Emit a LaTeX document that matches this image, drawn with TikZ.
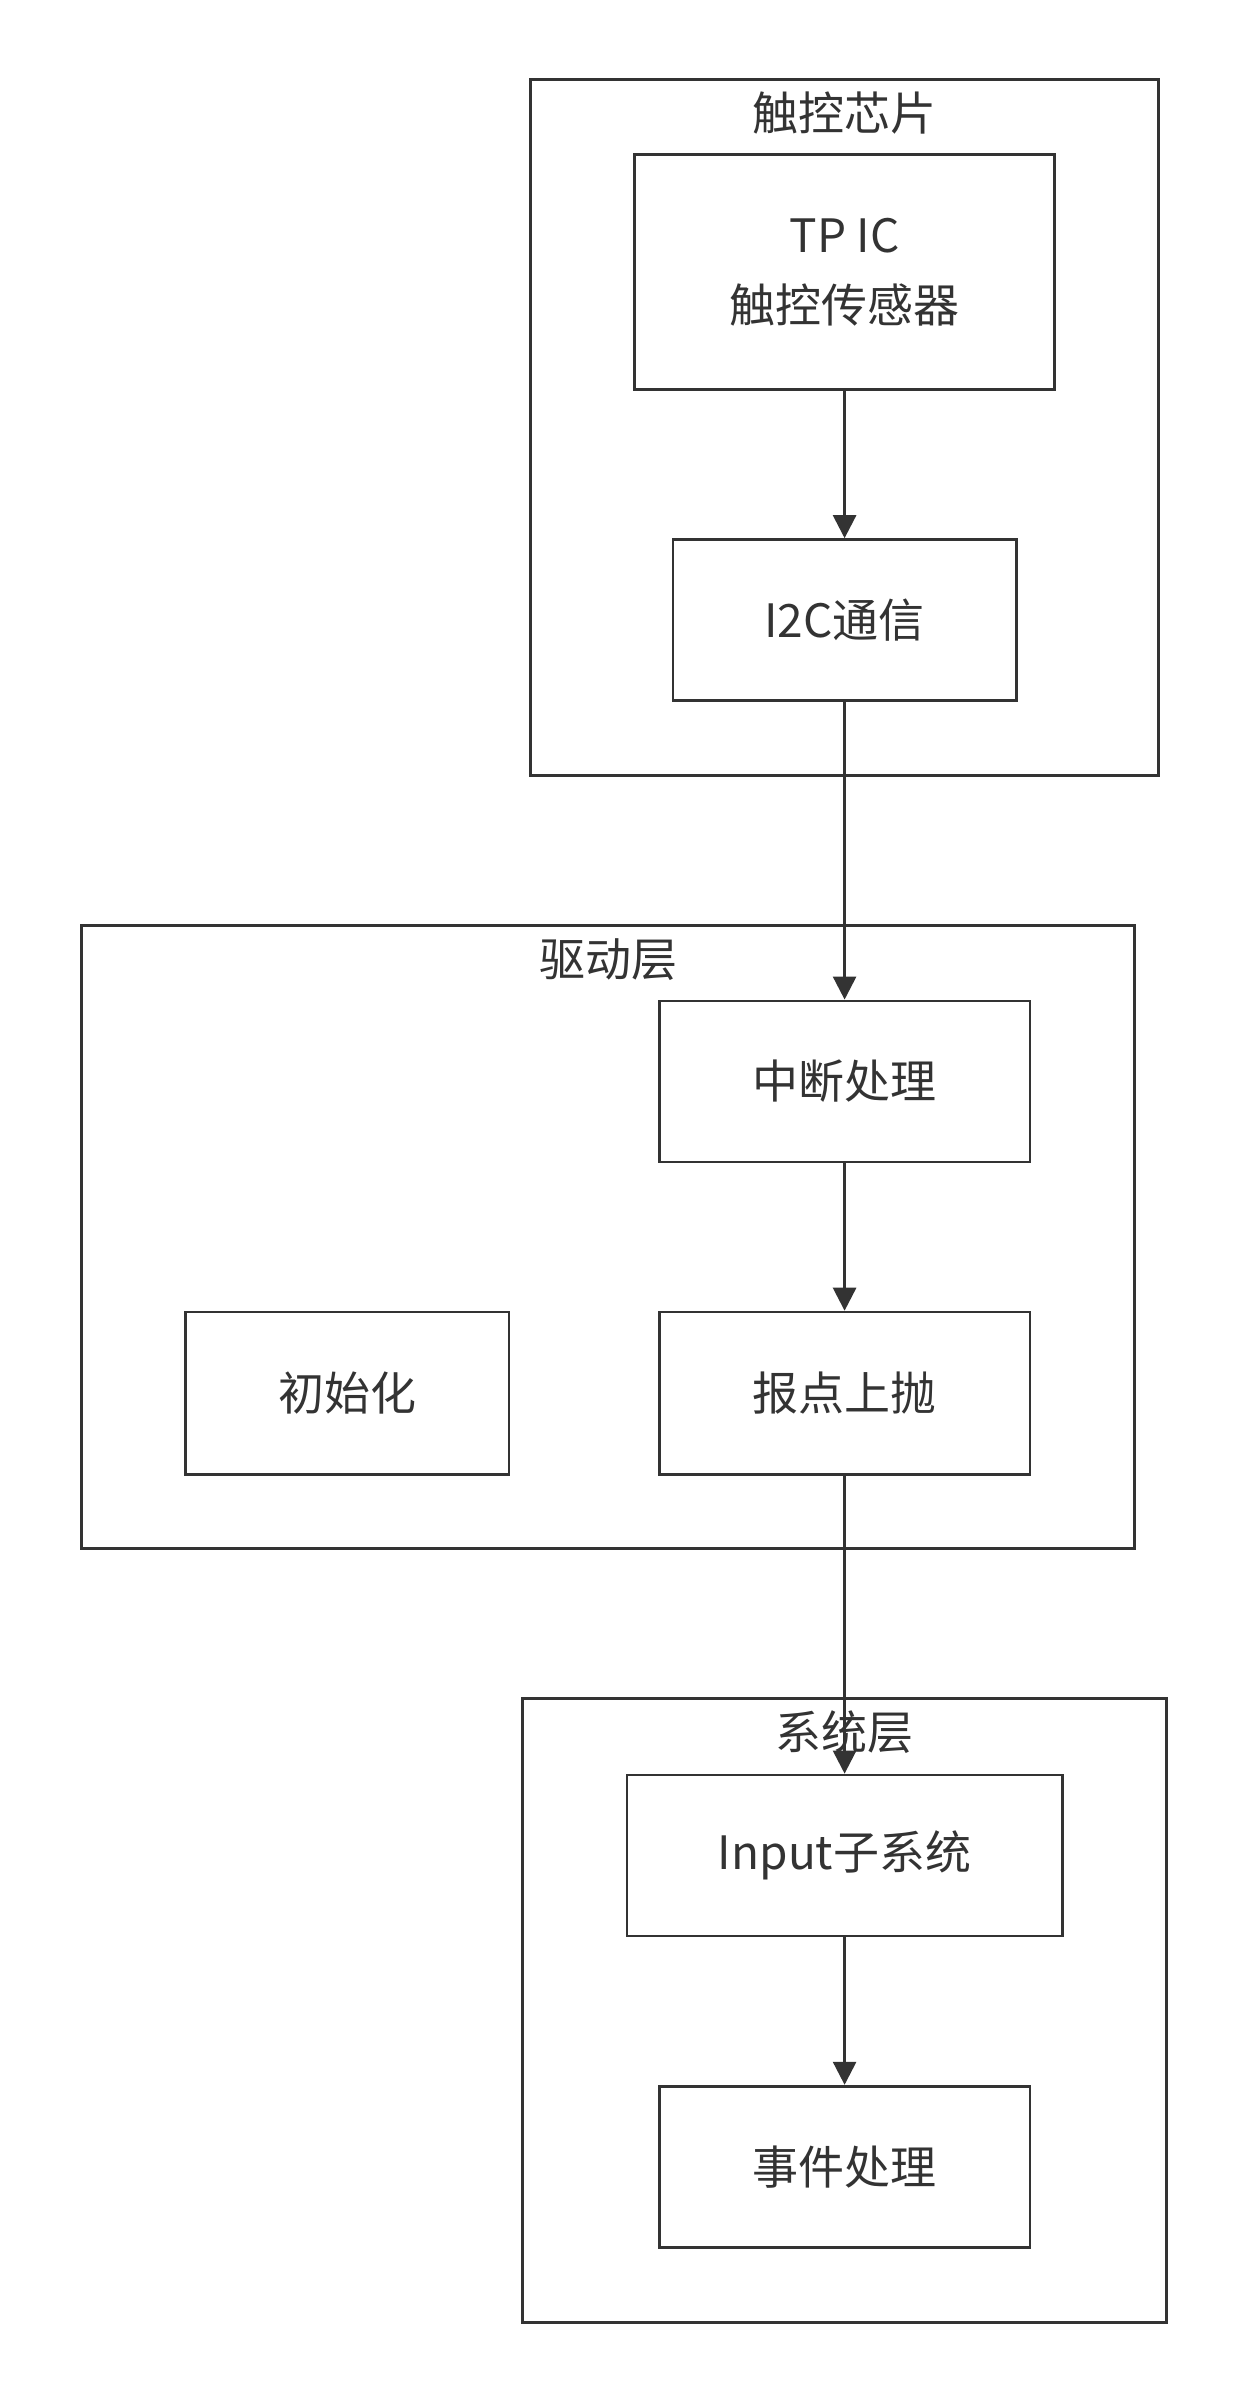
\documentclass[tikz,border=0pt]{standalone}
\usepackage{fontspec}
\setmainfont{Noto Sans CJK SC}
\usetikzlibrary{arrows.meta}
\definecolor{ln}{HTML}{333333}
\begin{document}
\begin{tikzpicture}[x=1pt,y=-1pt,
  box/.style={draw=ln,line width=1.8pt,fill=white,inner sep=0},
  lbl/.style={text=ln,font=\fontsize{30}{37}\selectfont},
  arr/.style={draw=ln,line width=1.8pt,-{Triangle[length=15pt,width=15pt]}}]
\useasboundingbox (0,0) rectangle (815,1569);
% groups
\draw[box] (346,52) rectangle (756,506);
\node[lbl] (g1) at (551,74) {触控芯片};
\draw[box] (53,604) rectangle (740,1010);
\node[lbl] (g2) at (397,626) {驱动层};
\draw[box] (341,1108) rectangle (761,1515);
\node[lbl] (g3) at (551,1130) {系统层};
% nodes
\node[box,minimum width=274pt,minimum height=153pt] (tp) at (551,177.5) {};
\node[lbl,align=center] at (tp) {TP IC\\[9pt]触控传感器};
\node[box,lbl,minimum width=224pt,minimum height=105pt] (i2c) at (551,404.5) {I2C通信};
\node[box,lbl,minimum width=242pt,minimum height=105pt] (irq) at (551,705.5) {中断处理};
\node[box,lbl,minimum width=242pt,minimum height=106pt] (rep) at (551,909) {报点上抛};
\node[box,lbl,minimum width=211pt,minimum height=106pt] (init) at (226.5,909) {初始化};
\node[box,lbl,minimum width=284pt,minimum height=105pt] (inp) at (551,1210.5) {Input子系统};
\node[box,lbl,minimum width=242pt,minimum height=105pt] (evt) at (551,1413.5) {事件处理};
% connectors
\draw[arr] (tp) -- (i2c);
\draw[arr] (i2c) -- (irq);
\draw[arr] (irq) -- (rep);
\draw[arr] (rep) -- (inp);
\draw[arr] (inp) -- (evt);
\end{tikzpicture}
\end{document}
